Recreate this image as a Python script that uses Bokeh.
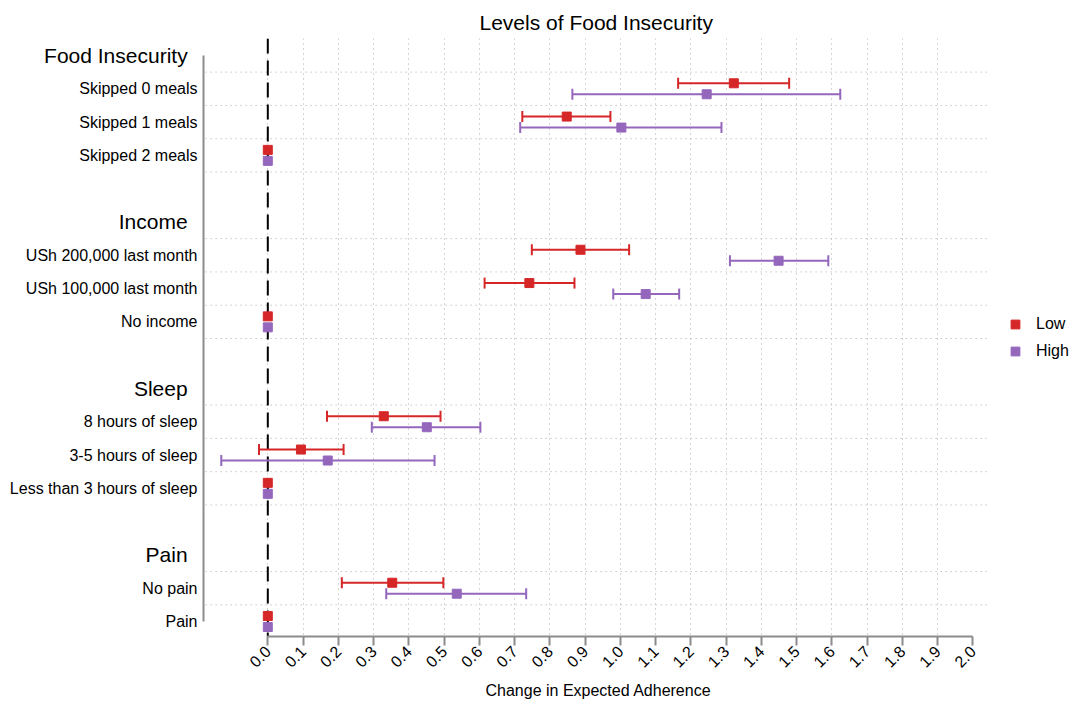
import math
from bokeh.plotting import figure
from bokeh.models import (ColumnDataSource, Range1d, FixedTicker, Span, Whisker,
                          TeeHead, Legend, LegendItem, Title)
from bokeh.core.properties import value
from bokeh.embed import file_html
from bokeh.resources import INLINE

# ---------------- data ----------------
groups = ["Food Insecurity", "Income", "Sleep", "Pain"]
group_items = [
    ["Skipped 0 meals", "Skipped 1 meals", "Skipped 2 meals"],
    ["USh 200,000 last month", "USh 100,000 last month", "No income"],
    ["8 hours of sleep", "3-5 hours of sleep", "Less than 3 hours of sleep"],
    ["No pain", "Pain"],
]
nan = float("nan")
low_est = [1.322, 0.848, 0.0, 0.887, 0.742, 0.0, 0.329, 0.094, 0.0, 0.353, 0.0]
low_lo = [1.164, 0.722, nan, 0.749, 0.615, nan, 0.168, -0.025, nan, 0.210, nan]
low_hi = [1.479, 0.972, nan, 1.025, 0.870, nan, 0.490, 0.215, nan, 0.498, nan]
high_est = [1.245, 1.003, 0.0, 1.449, 1.072, 0.0, 0.451, 0.170, 0.0, 0.536, 0.0]
high_lo = [0.864, 0.716, nan, 1.311, 0.980, nan, 0.295, -0.132, nan, 0.336, nan]
high_hi = [1.624, 1.287, nan, 1.590, 1.167, nan, 0.603, 0.473, nan, 0.733, nan]
series_names = ["Low", "High"]
x_ticks = [round(i * 0.1, 1) for i in range(21)]

# ---------------- row layout ----------------
header_rows, item_rows, item_labels, boundaries = [], [], [], []
r = 0
for g, items in zip(groups, group_items):
    header_rows.append(r)
    boundaries.append(r + 0.5)
    for it in items:
        r += 1
        item_rows.append(r)
        item_labels.append(it)
        boundaries.append(r + 0.5)
    r += 2
boundaries = [b for b in boundaries if b < item_rows[-1]]

FONT = "Liberation Sans"
RED = "#d62728"
PURPLE = "#9467bd"
AXIS_GRAY = "#8c8c8c"
GRID_GRAY = "#aaaaaa"

# frame spans label column, plotting area and legend column
X_START, X_END = -0.7583, 2.3055
AXIS_X = -0.1824      # left (category) axis line
GRID_END = 2.0417     # right end of the plotting area

p = figure(width=1080, height=706, output_backend="svg", toolbar_location=None,
           x_range=Range1d(X_START, X_END), y_range=Range1d(17.45, -0.51),
           y_axis_location=None,
           min_border_left=0, min_border_right=0, min_border_top=38,
           min_border_bottom=70)
p.outline_line_color = None
p.background_fill_color = "white"
p.border_fill_color = "white"

# title
p.title.text = "Levels of Food Insecurity"
p.title.align = "left"
p.title.offset = 479
p.title.text_font = FONT
p.title.text_font_size = "21px"
p.title.text_font_style = "normal"
p.title.text_color = "black"
p.title.standoff = 9

# grids
p.xgrid.ticker = FixedTicker(ticks=x_ticks[:-1])
p.xgrid.grid_line_color = GRID_GRAY
p.xgrid.grid_line_dash = "1 4"
p.xgrid.grid_line_width = 1
p.ygrid.visible = False
p.segment(x0=[AXIS_X + 0.006] * len(boundaries), x1=[GRID_END] * len(boundaries),
          y0=boundaries, y1=boundaries, line_color=GRID_GRAY, line_dash="1 4",
          line_width=1, level="underlay")

# x axis (ticks)
xa = p.xaxis[0]
xa.ticker = FixedTicker(ticks=x_ticks)
xa.major_label_overrides = {t: f"{t:.1f}" for t in x_ticks}
xa.major_label_orientation = math.pi / 4
xa.major_label_text_font = FONT
xa.major_label_text_font_size = "16px"
xa.major_label_text_color = "black"
xa.major_label_standoff = 3
xa.bounds = (0, 2)
xa.axis_line_color = AXIS_GRAY
xa.axis_line_width = 2
xa.major_tick_line_color = AXIS_GRAY
xa.major_tick_line_width = 2
xa.major_tick_out = 9
xa.major_tick_in = 0
xa.minor_tick_line_color = None

# x axis title, placed under the plotting area
p.add_layout(Title(text="Change in Expected Adherence", align="left", offset=485,
                   text_font=FONT, text_font_size="16px", text_font_style="normal",
                   text_color="black", standoff=8), "below")

# left category axis line
p.segment(x0=[AXIS_X], x1=[AXIS_X], y0=[header_rows[0]], y1=[item_rows[-1]],
          line_color=AXIS_GRAY, line_width=2)

# category labels
p.text(x=[AXIS_X - 0.017] * len(item_rows), y=item_rows, text=item_labels,
       text_align="right", text_baseline="middle", text_font=value(FONT),
       text_font_size=value("16px"), text_color="black")
p.text(x=[AXIS_X - 0.045] * len(header_rows), y=header_rows, text=groups,
       text_align="right", text_baseline="middle", text_font=value(FONT),
       text_font_size=value("21px"), text_color="black")

# zero line
p.add_layout(Span(location=0, dimension="height", line_color="black",
                  line_width=2, line_dash="15 7", level="underlay"))

# series
offsets = [-0.165, 0.165]
colors = [RED, PURPLE]
ests = [low_est, high_est]
los = [low_lo, high_lo]
his = [low_hi, high_hi]
renderers = []
for name, off, col, est, lo, hi in zip(series_names, offsets, colors, ests, los, his):
    ys = [rr + off for rr in item_rows]
    keep = [i for i in range(len(ys)) if not math.isnan(lo[i])]
    wsrc = ColumnDataSource(dict(y=[ys[i] for i in keep], lo=[lo[i] for i in keep],
                                 hi=[hi[i] for i in keep]))
    w = Whisker(source=wsrc, base="y", lower="lo", upper="hi", dimension="width",
                line_color=col, line_width=2,
                lower_head=TeeHead(size=11, line_color=col, line_width=2),
                upper_head=TeeHead(size=11, line_color=col, line_width=2))
    p.add_layout(w)
    src = ColumnDataSource(dict(x=est, y=ys))
    rend = p.scatter("x", "y", source=src, marker="square", size=9,
                     fill_color=col, line_color=col)
    renderers.append(rend)

legend = Legend(items=[LegendItem(label=n, renderers=[rr]) for n, rr in zip(series_names, renderers)],
                location=(1004, 274), glyph_width=22, glyph_height=22, spacing=5,
                label_standoff=10, padding=0, margin=0,
                border_line_color=None, background_fill_alpha=0,
                label_text_font=FONT, label_text_font_size="16px",
                label_text_color="black")
p.add_layout(legend, "center")

open("out.html", "w").write(file_html(p, INLINE))
